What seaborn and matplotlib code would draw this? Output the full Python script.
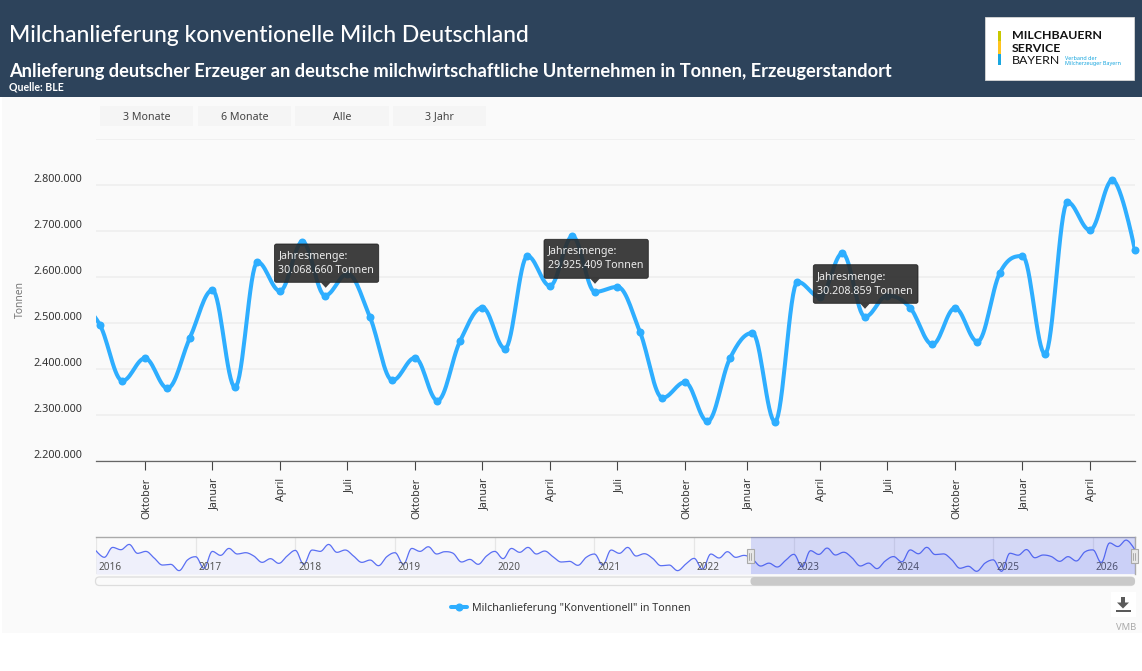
import numpy as np
import pandas as pd
import matplotlib
matplotlib.use("Agg")
import matplotlib.pyplot as plt
from matplotlib.patches import Rectangle, FancyBboxPatch, Polygon
from matplotlib.lines import Line2D
from matplotlib.ticker import FuncFormatter
from matplotlib.transforms import ScaledTranslation
import seaborn as sns

# ---------- data (tonnes per month) ----------
history_values = [
    2631, 2520, 2687, 2648, 2737, 2587, 2620, 2509, 2391, 2403, 2297, 2475,
    2531, 2336, 2620, 2553, 2670, 2576, 2598, 2542, 2436, 2498, 2419, 2542,
    2637, 2403, 2643, 2620, 2737, 2604, 2643, 2542, 2436, 2475, 2380, 2531,
    2598, 2403, 2670, 2620, 2698, 2576, 2615, 2587, 2442, 2486, 2403, 2542,
    2620, 2498, 2670, 2604, 2687, 2576, 2626, 2531, 2442, 2453, 2386, 2520,
    2576, 2391, 2643, 2587, 2687, 2542, 2581, 2503, 2380, 2391, 2297, 2408,
    2503, 2319, 2576, 2509, 2615, 2520, 2553,
]
main_values = [
    2495, 2374, 2423, 2358, 2468, 2571, 2360, 2632, 2569, 2676, 2559, 2606,
    2512, 2375, 2424, 2331, 2460, 2533, 2444, 2645, 2580, 2688, 2567, 2578,
    2480, 2337, 2371, 2286, 2423, 2478, 2285, 2589, 2556, 2651, 2513, 2559,
    2533, 2453, 2532, 2459, 2609, 2645, 2432, 2762, 2701, 2810, 2657,
]
month_ticks = [2, 5, 8, 11, 14, 17, 20, 23, 26, 28.74, 32, 35, 38, 41, 44]
month_labels = ["Oktober", "Januar", "April", "Juli", "Oktober", "Januar", "April", "Juli",
                "Oktober", "Januar", "April", "Juli", "Oktober", "Januar", "April"]
y_ticks = [2200000, 2300000, 2400000, 2500000, 2600000, 2700000, 2800000, 2900000]
year_labels = ["2016", "2017", "2018", "2019", "2020", "2021", "2022", "2023", "2024", "2025", "2026"]
range_buttons = ["3 Monate", "6 Monate", "Alle", "3 Jahr"]
tooltip_amounts = ["30.068.660", "29.925.409", "30.208.859"]
series_name = 'Milchanlieferung "Konventionell" in Tonnen'

W, H = 1142, 671
BLUE = "#2EAEFF"
BODY = ["Noto Sans", "DejaVu Sans"]
HEAD = ["Lato", "DejaVu Sans"]

sns.set_theme(style="white")
plt.rcParams["font.family"] = BODY
plt.rcParams["axes.unicode_minus"] = False

fig = plt.figure(figsize=(W / 100, H / 100), dpi=100, facecolor="white")


def px_axes(l, t, r, b, **kw):
    ax = fig.add_axes([l / W, 1 - b / H, (r - l) / W, (b - t) / H], **kw)
    ax.patch.set_alpha(0)
    return ax


def overlay(z):
    ax = px_axes(0, 0, W, H, zorder=z)
    ax.set_xlim(0, W)
    ax.set_ylim(H, 0)
    ax.axis("off")
    return ax


def smooth_curve(x, y, k=0.36, n=16):
    """Display curve through the points, flat at local extremes (monotone along x)."""
    x = np.asarray(x, float)
    y = np.asarray(y, float)
    P = np.column_stack([x, y])
    cin = P.copy()
    cout = P.copy()
    for i in range(1, len(x) - 1):
        v = P[i + 1] - P[i - 1]
        a = y[i] - y[i - 1]
        b = y[i + 1] - y[i]
        if a * b <= 0:
            v[1] = 0.0
        cout[i] = P[i] + v * k * 0.5
        cin[i] = P[i] - v * k * 0.5
        if a * b > 0:
            lo, hi = sorted((y[i], y[i + 1]))
            cout[i, 1] = np.clip(cout[i, 1], lo, hi)
            lo, hi = sorted((y[i - 1], y[i]))
            cin[i, 1] = np.clip(cin[i, 1], lo, hi)
    t = np.linspace(0, 1, n, endpoint=False)[:, None]
    parts = []
    for i in range(len(x) - 1):
        parts.append((1 - t) ** 3 * P[i] + 3 * (1 - t) ** 2 * t * cout[i]
                     + 3 * (1 - t) * t ** 2 * cin[i + 1] + t ** 3 * P[i + 1])
    parts.append(P[-1:])
    out = np.vstack(parts)
    return out[:, 0], out[:, 1]


history = np.array(history_values) * 1000.0
main = np.array(main_values) * 1000.0
full = np.concatenate([history, main])

# ---------- page background ----------
bg = overlay(0)
bg.add_patch(Rectangle((1.5, 97), W, 536, fc="#FAFAFA", ec="none"))
bg.add_patch(Rectangle((0, 0), W, 97, fc="#2D435B", ec="none"))
bg.text(9, 36, "Milchanlieferung konventionelle Milch Deutschland", color="white",
        fontsize=16.5, family=HEAD, fontweight="medium", va="center", ha="left")
bg.text(9, 71, "Anlieferung deutscher Erzeuger an deutsche milchwirtschaftliche Unternehmen in Tonnen, Erzeugerstandort",
        color="white", fontsize=13.12, family=HEAD, fontweight="bold", va="center", ha="left")
bg.text(9, 86.5, "Quelle: BLE", color="white", fontsize=7.6, family=HEAD, fontweight="bold", va="center", ha="left")

# logo
bg.add_patch(Rectangle((985, 17), 148.5, 63, fc="white", ec="#D8D8D8", lw=0.6))
bg.add_patch(Rectangle((998, 31), 3, 10, fc="#C8C800", ec="none"))
bg.add_patch(Rectangle((998, 41), 3, 13, fc="#FFC41F", ec="none"))
bg.add_patch(Rectangle((998, 54), 3, 11, fc="#1AA7DF", ec="none"))
bg.text(1012, 35.5, "MILCHBAUERN", color="#111", fontsize=8.9, family=HEAD, fontweight="bold", va="center")
bg.text(1012, 48, "SERVICE", color="#111", fontsize=8.9, family=HEAD, fontweight="bold", va="center")
bg.text(1012, 60, "BAYERN", color="#111", fontsize=8.9, family=HEAD, va="center")
bg.text(1065, 58, "Verband der", color="#1AA7DF", fontsize=3.9, va="center")
bg.text(1065, 63, "Milcherzeuger Bayern", color="#1AA7DF", fontsize=3.9, va="center")

# range buttons
for label, (l, r) in zip(range_buttons, [(100, 193), (198, 291), (295, 389), (393, 486)]):
    bg.add_patch(Rectangle((l, 106), r - l, 20, fc="#F5F5F5", ec="none"))
    bg.text((l + r) / 2, 119.6, label, color="#444", fontsize=7.7, ha="center", va="baseline")

# ---------- main chart ----------
ax = px_axes(96, 138.5, 1135, 461, zorder=2)
ax.set_xlim(-4 / 22.51, 46)
ax.set_ylim(2200000, 2900000)
j = np.arange(-1, len(main))
cx, cy = smooth_curve(j, np.concatenate([history[-1:], main]))
curve = pd.DataFrame({"Monat": cx, "Tonnen": cy})
sns.lineplot(data=curve, x="Monat", y="Tonnen", ax=ax, color=BLUE, linewidth=2.9,
             estimator=None, sort=False, zorder=3)
points = pd.DataFrame({"Monat": np.arange(len(main)), "Tonnen": main})
sns.scatterplot(data=points, x="Monat", y="Tonnen", ax=ax, color=BLUE, s=33, linewidth=0,
                zorder=4, clip_on=False)
ax.set_xticks(month_ticks)
ax.set_xticklabels(month_labels, rotation=90, ha="center", va="top")
ax.set_yticks(y_ticks)
ax.yaxis.set_major_formatter(FuncFormatter(
    lambda v, _: "" if v >= 2850000 else f"{int(v):,}".replace(",", ".")))
ax.tick_params(axis="x", length=6.5, width=0.8, color="#444", pad=5.8, labelsize=7.6, labelcolor="#333", bottom=True)
ax.tick_params(axis="y", length=0, pad=10, labelsize=7.8, labelcolor="#333")
shift = ScaledTranslation(2 / 100, 0, fig.dpi_scale_trans)
for t in ax.get_xticklabels():
    t.set_transform(t.get_transform() + shift)
for t in ax.get_yticklabels():
    t.set_va("bottom")
ax.grid(axis="y", color="#EEEEEE", lw=1.1)
ax.set_axisbelow(True)
for s in ["top", "left", "right"]:
    ax.spines[s].set_visible(False)
ax.spines["bottom"].set_color("#666")
ax.spines["bottom"].set_linewidth(0.9)
ax.set_xlabel("")
ax.set_ylabel("")
bg.text(20, 300, "Tonnen", rotation=90, color="#777", fontsize=7.4, ha="center", va="center")

# ---------- range slider ----------
mini = px_axes(96, 537.3, 1134.5, 574, zorder=2)
mini.set_xlim(0, len(full) - 1)
mini.set_ylim(2241000, 2856000)
mx, my = smooth_curve(np.arange(len(full)), full, n=8)
mini.fill_between(mx, my, 2241000, color="#EFF0FB", lw=0, zorder=1)
sns.lineplot(x=mx, y=my, ax=mini, color="#5A6FF3", linewidth=0.9, estimator=None, sort=False, zorder=2)
year_pos = np.arange(len(year_labels)) * 12
mini.set_xticks(year_pos)
mini.set_xticklabels([])
mini.set_yticks([])
mini.grid(axis="x", color="#E6E6E6", lw=0.9)
mini.set_axisbelow(True)
mini.tick_params(axis="x", length=0)
for lab, p in zip(year_labels, year_pos):
    mini.annotate(lab, xy=(p, 0), xycoords=mini.get_xaxis_transform(), xytext=(2, 0.6), textcoords="offset points",
                  fontsize=7.2, color="#555", ha="left", va="bottom", zorder=3)
mini.axvspan(79 - 0.2, len(full) - 1, color="#3347E8", alpha=0.19, lw=0, zorder=4)
for s in ["left", "bottom"]:
    mini.spines[s].set_visible(False)
for s in ["top", "right"]:
    mini.spines[s].set_color("#AAAAAA")
    mini.spines[s].set_linewidth(1.0)

fg = overlay(5)
# scrollbar
fg.add_patch(FancyBboxPatch((95.5, 577), 1039, 8.5, boxstyle="round,pad=0,rounding_size=4",
                            fc="none", ec="#DDDDDD", lw=0.9))
fg.add_patch(FancyBboxPatch((750.5, 577), 384.5, 8.5, boxstyle="round,pad=0,rounding_size=4",
                            fc="#C9C9C9", ec="none"))
# handles
for l, r in [(746.7, 753.7), (1130.7, 1138)]:
    fg.add_patch(Rectangle((l, 549), r - l, 14, fc="#E8E8E8", ec="#AAAAAA", lw=0.8))
    c = (l + r) / 2
    fg.plot([c - 1, c - 1], [552.5, 559.5], color="#AAAAAA", lw=0.7)
    fg.plot([c + 1, c + 1], [552.5, 559.5], color="#AAAAAA", lw=0.7)

# legend
handle = Line2D([], [], color=BLUE, lw=2.9, marker="o", ms=5.8, mew=0)
fig.legend([handle], [series_name], loc="center", bbox_to_anchor=(571 / W, 1 - 608 / H), frameon=False,
           fontsize=7.7, labelcolor="#333", handlelength=1.5, handletextpad=0.5)

# download button
fg.add_patch(Rectangle((1110.7, 592), 25.3, 25, fc="white", ec="none"))
fg.add_patch(Polygon([(1121, 597), (1125, 597), (1125, 602.5), (1129, 602.5), (1123, 608.5), (1117, 602.5), (1121, 602.5)],
                     fc="#5A5A5A", ec="none"))
fg.add_patch(Rectangle((1115.5, 609.5), 15, 2.5, fc="#5A5A5A", ec="none"))
fg.text(1126, 627, "VMB", color="#AAAAAA", fontsize=6.8, ha="center", va="center")

# tooltips
for amount, (l, t, r, b, tip) in zip(tooltip_amounts, [(274.5, 244, 378.7, 282.3, 325.7),
                                                        (544, 239.3, 648.3, 278.3, 595),
                                                        (813.3, 264.7, 918, 303.3, 865)]):
    fg.add_patch(FancyBboxPatch((l, t), r - l, b - t, boxstyle="round,pad=0,rounding_size=2",
                                fc="#2B2B2B", ec="#1E1E1E", lw=0.6, alpha=0.9, zorder=6))
    fg.add_patch(Polygon([(tip - 5, b), (tip + 5, b), (tip, b + 5.5)], fc="#2B2B2B", ec="none", alpha=0.9, zorder=6))
    fg.text(l + 4, t + 15, "Jahresmenge:", color="#EEEEEE", fontsize=7.7, va="baseline", ha="left", zorder=7)
    fg.text(l + 4, t + 29, f"{amount} Tonnen", color="#EEEEEE", fontsize=7.7, va="baseline", ha="left", zorder=7)

fig.savefig("out.png", dpi=100, facecolor="white")
